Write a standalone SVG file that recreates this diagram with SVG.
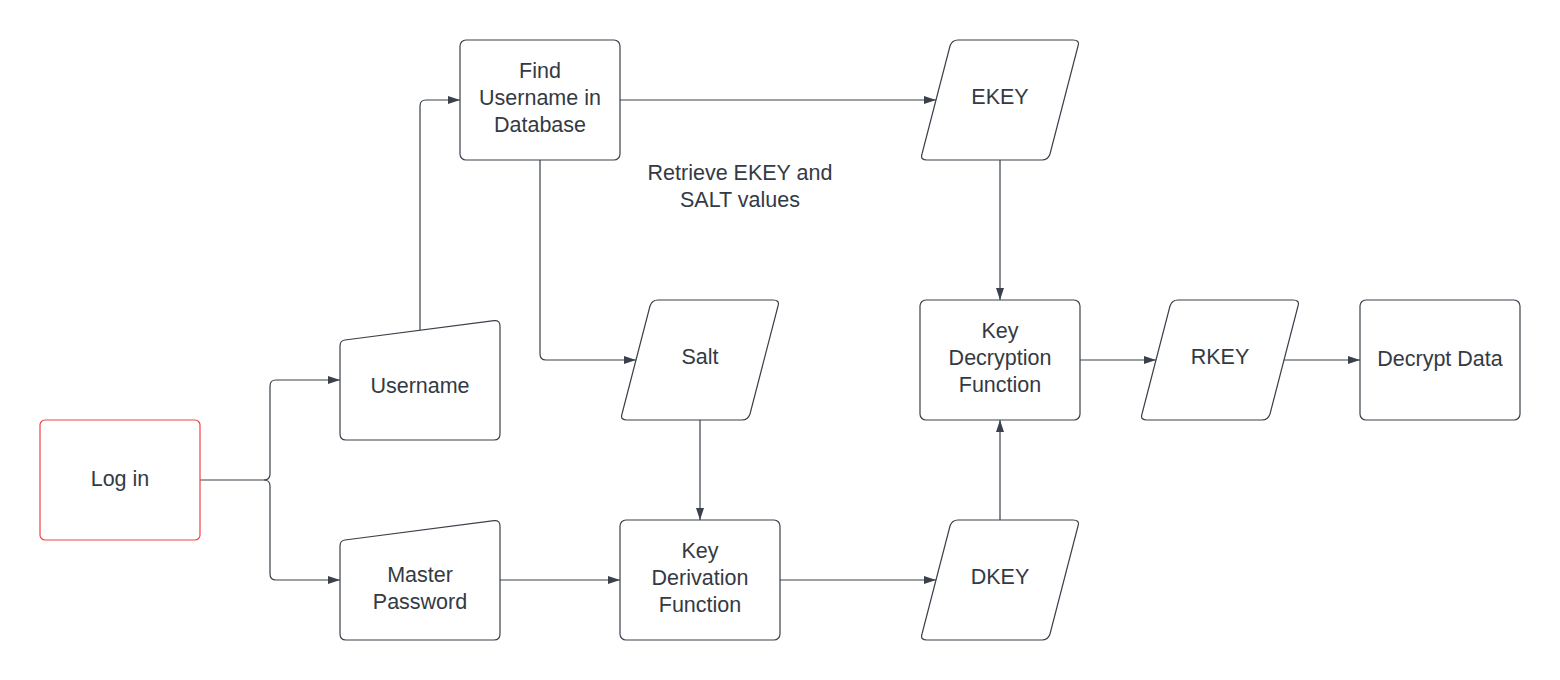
<svg xmlns="http://www.w3.org/2000/svg" width="1560" height="680" viewBox="0 0 1560 680">
<style>
.n{fill:#ffffff;stroke:#3a414a;stroke-width:1.2}
.r{fill:#ffffff;stroke:#ef4444;stroke-width:1.2}
.t{font-family:"Liberation Sans",Arial,sans-serif;font-size:21.5px;fill:#333a44;text-anchor:middle}
.c{fill:none;stroke:#3a414a;stroke-width:1.2}
</style>
<defs>
<marker id="a" viewBox="0 0 12 8" refX="12" refY="4" markerWidth="12" markerHeight="8" markerUnits="userSpaceOnUse" orient="auto">
<path d="M0,0 L12,4 L0,8 Z" fill="#3a414a"/>
</marker>
</defs>
<rect width="1560" height="680" fill="#ffffff"/>
<g id="connectors">
<path class="c" d="M200,480 H264 Q270,480 270,474 V386 Q270,380 276,380 H340" marker-end="url(#a)"/>
<path class="c" d="M264,480 Q270,480 270,486 V574 Q270,580 276,580 H340" marker-end="url(#a)"/>
<path class="c" d="M420,330 V106 Q420,100 426,100 H460" marker-end="url(#a)"/>
<path class="c" d="M620,100 H936" marker-end="url(#a)"/>
<path class="c" d="M540,160 V354 Q540,360 546,360 H636" marker-end="url(#a)"/>
<path class="c" d="M700,420 V520" marker-end="url(#a)"/>
<path class="c" d="M500,580 H620" marker-end="url(#a)"/>
<path class="c" d="M780,580 H936" marker-end="url(#a)"/>
<path class="c" d="M1000,520 V420" marker-end="url(#a)"/>
<path class="c" d="M1000,160 V300" marker-end="url(#a)"/>
<path class="c" d="M1080,360 H1156" marker-end="url(#a)"/>
<path class="c" d="M1284,360 H1360" marker-end="url(#a)"/>
</g>
<g id="login">
<rect class="r" x="40" y="420" width="160" height="120" rx="5"/>
<text class="t" x="120" y="486">Log in</text>
</g>
<g id="username">
<path class="n" d="M345,340 L494,320.6 Q500,320 500,326 V434 Q500,440 494,440 H346 Q340,440 340,434 V346 Q340,340.6 345,340 Z"/>
<text class="t" x="420" y="393">Username</text>
</g>
<g id="master">
<path class="n" d="M345,540 L494,520.6 Q500,520 500,526 V634 Q500,640 494,640 H346 Q340,640 340,634 V546 Q340,540.6 345,540 Z"/>
<text class="t" x="420" y="582">Master</text>
<text class="t" x="420" y="609">Password</text>
</g>
<g id="find">
<rect class="n" x="460" y="40" width="160" height="120" rx="6"/>
<text class="t" x="540" y="78">Find</text>
<text class="t" x="540" y="105">Username in</text>
<text class="t" x="540" y="132">Database</text>
</g>
<g id="retrieve-label">
<text class="t" x="740" y="180">Retrieve EKEY and</text>
<text class="t" x="740" y="207">SALT values</text>
</g>
<g id="ekey">
<path class="n" d="M958,40 H1073 Q1080,40 1078,46 L1050,154 Q1048,160 1042,160 H927 Q920,160 922,154 L950,46 Q952,40 958,40 Z"/>
<text class="t" x="1000" y="104">EKEY</text>
</g>
<g id="salt">
<path class="n" d="M658,300 H773 Q780,300 778,306 L750,414 Q748,420 742,420 H627 Q620,420 622,414 L650,306 Q652,300 658,300 Z"/>
<text class="t" x="700" y="364">Salt</text>
</g>
<g id="kdf">
<rect class="n" x="620" y="520" width="160" height="120" rx="6"/>
<text class="t" x="700" y="558">Key</text>
<text class="t" x="700" y="585">Derivation</text>
<text class="t" x="700" y="612">Function</text>
</g>
<g id="dkey">
<path class="n" d="M958,520 H1073 Q1080,520 1078,526 L1050,634 Q1048,640 1042,640 H927 Q920,640 922,634 L950,526 Q952,520 958,520 Z"/>
<text class="t" x="1000" y="584">DKEY</text>
</g>
<g id="kdecf">
<rect class="n" x="920" y="300" width="160" height="120" rx="6"/>
<text class="t" x="1000" y="338">Key</text>
<text class="t" x="1000" y="365">Decryption</text>
<text class="t" x="1000" y="392">Function</text>
</g>
<g id="rkey">
<path class="n" d="M1178,300 H1293 Q1300,300 1298,306 L1270,414 Q1268,420 1262,420 H1147 Q1140,420 1142,414 L1170,306 Q1172,300 1178,300 Z"/>
<text class="t" x="1220" y="364">RKEY</text>
</g>
<g id="decrypt">
<rect class="n" x="1360" y="300" width="160" height="120" rx="6"/>
<text class="t" x="1440" y="366">Decrypt Data</text>
</g>
</svg>
